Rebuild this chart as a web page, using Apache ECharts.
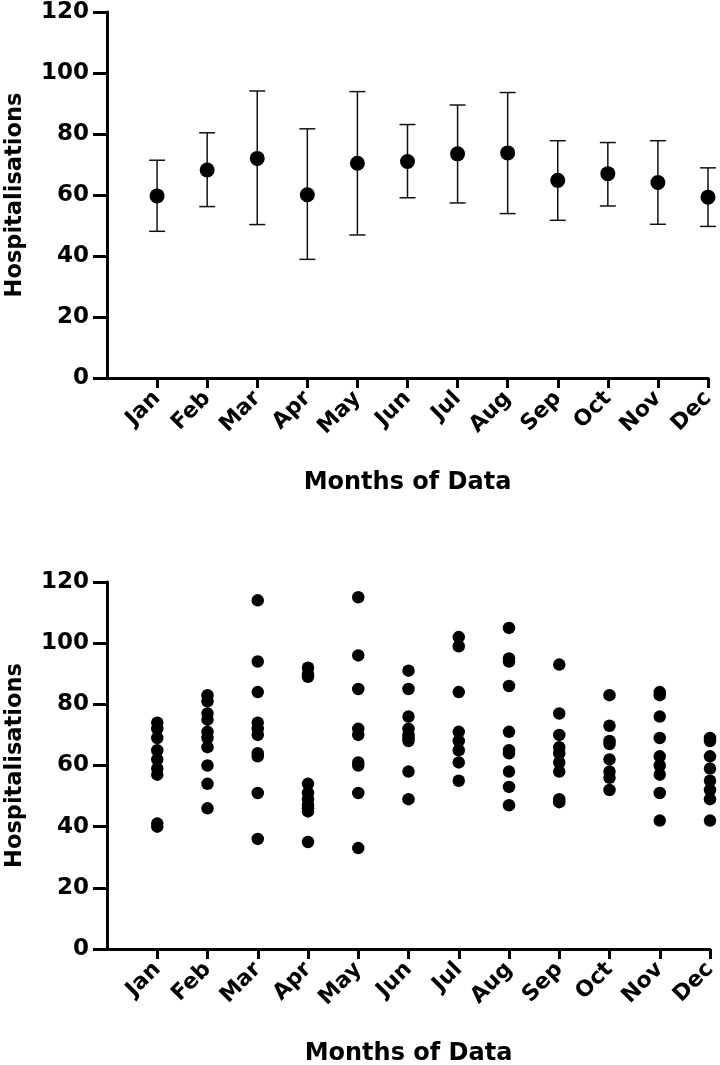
<!DOCTYPE html>
<html>
<head>
<meta charset="utf-8">
<script src="https://cdn.jsdelivr.net/npm/echarts@6/dist/echarts.min.js"></script>
<style>
html,body{margin:0;padding:0;background:#fff;}
#c{width:720px;height:1065px;}
</style>
</head>
<body>
<div id="c"></div>
<script>
// ---- data ----
var months = ['Jan','Feb','Mar','Apr','May','Jun','Jul','Aug','Sep','Oct','Nov','Dec'];
var yTicks = [0, 20, 40, 60, 80, 100, 120];
// top panel: mean with error bars
var meanValues  = [59.7, 68.2, 72.0, 60.1, 70.4, 71.0, 73.5, 73.8, 64.8, 67.0, 64.1, 59.3];
var lowerValues = [48.1, 56.2, 50.3, 38.9, 46.9, 59.1, 57.4, 53.9, 51.7, 56.4, 50.4, 49.7];
var upperValues = [71.4, 80.4, 94.1, 81.7, 93.9, 83.1, 89.5, 93.6, 77.8, 77.2, 77.8, 68.9];
// bottom panel: individual observations per month
var janObs = [74, 72, 69, 65, 62, 59, 57, 41, 40];
var febObs = [83, 81, 77, 75, 71, 69, 66, 60, 54, 46];
var marObs = [114, 94, 84, 74, 72, 70, 64, 63, 51, 36];
var aprObs = [92, 90, 89, 54, 51, 49, 47, 46, 45, 35];
var mayObs = [115, 96, 85, 72, 70, 61, 60, 51, 33];
var junObs = [91, 85, 76, 72, 70, 69, 68, 58, 49];
var julObs = [102, 99, 84, 71, 68, 65, 61, 55];
var augObs = [105, 95, 94, 86, 71, 65, 64, 58, 53, 47];
var sepObs = [93, 77, 70, 66, 64, 61, 58, 49, 48];
var octObs = [83, 73, 68, 67, 62, 58, 56, 52];
var novObs = [84, 83, 76, 69, 63, 60, 57, 51, 42];
var decObs = [69, 68, 63, 59, 55, 52, 49, 42];
var monthObs = [janObs, febObs, marObs, aprObs, mayObs, junObs, julObs, augObs, sepObs, octObs, novObs, decObs];

// ---- build ----
var FONT = 'DejaVu Sans';
var cats = [''].concat(months);

function xAxisCfg(gi) {
  return {
    gridIndex: gi,
    type: 'category',
    data: cats,
    boundaryGap: false,
    name: 'Months of Data',
    nameLocation: 'middle',
    nameGap: 93,
    nameTextStyle: {fontFamily: FONT, fontWeight: 'bold', fontSize: 24, color: '#000'},
    axisLine: {lineStyle: {color: '#000', width: 3}},
    axisTick: {length: 10, lineStyle: {color: '#000', width: 3},
               interval: function (i) { return i > 0; }},
    axisLabel: {rotate: 45, margin: 17, interval: 0,
                fontFamily: FONT, fontWeight: 'bold', fontSize: 22, color: '#000'},
    splitLine: {show: false}
  };
}
function yAxisCfg(gi) {
  return {
    gridIndex: gi,
    type: 'value',
    min: yTicks[0],
    max: yTicks[yTicks.length - 1],
    interval: yTicks[1] - yTicks[0],
    name: 'Hospitalisations',
    nameLocation: 'middle',
    nameGap: 80,
    nameTextStyle: {fontFamily: FONT, fontWeight: 'bold', fontSize: 22.5, color: '#000'},
    axisLine: {show: true, lineStyle: {color: '#000', width: 3}},
    axisTick: {show: true, length: 14, lineStyle: {color: '#000', width: 3}},
    axisLabel: {margin: 18, fontFamily: FONT, fontWeight: 'bold', fontSize: 23, color: '#000'},
    splitLine: {show: false}
  };
}

var errData = months.map(function (m, i) { return [i + 1, lowerValues[i], upperValues[i]]; });
var meanData = months.map(function (m, i) { return [i + 1, meanValues[i]]; });
var obsData = [];
monthObs.forEach(function (arr, i) {
  arr.forEach(function (v) { obsData.push([i + 1, v]); });
});

var option = {
  animation: false,
  backgroundColor: '#fff',
  grid: [
    {left: 107, right: 12, top: 12, height: 366, containLabel: false, outerBoundsMode: 'none'},
    {left: 107, right: 10, top: 582, height: 367, containLabel: false, outerBoundsMode: 'none'}
  ],
  xAxis: [xAxisCfg(0), xAxisCfg(1)],
  yAxis: [yAxisCfg(0), yAxisCfg(1)],
  series: [
    {
      type: 'custom',
      xAxisIndex: 0, yAxisIndex: 0,
      data: errData,
      encode: {x: 0, y: [1, 2]},
      z: 2,
      renderItem: function (params, api) {
        var x = api.value(0);
        var lo = api.coord([x, api.value(1)]);
        var hi = api.coord([x, api.value(2)]);
        var hw = 8;
        var st = {stroke: '#111', lineWidth: 1.5};
        return {
          type: 'group',
          children: [
            {type: 'line', shape: {x1: lo[0], y1: lo[1], x2: hi[0], y2: hi[1]}, style: st},
            {type: 'line', shape: {x1: hi[0] - hw, y1: hi[1], x2: hi[0] + hw, y2: hi[1]}, style: st},
            {type: 'line', shape: {x1: lo[0] - hw, y1: lo[1], x2: lo[0] + hw, y2: lo[1]}, style: st}
          ]
        };
      }
    },
    {
      type: 'scatter',
      xAxisIndex: 0, yAxisIndex: 0,
      data: meanData,
      symbol: 'circle',
      symbolSize: 15,
      itemStyle: {color: '#000', opacity: 1},
      z: 3
    },
    {
      type: 'scatter',
      xAxisIndex: 1, yAxisIndex: 1,
      data: obsData,
      symbol: 'circle',
      symbolSize: 12.5,
      itemStyle: {color: '#000', opacity: 1}
    }
  ]
};

var chart = echarts.init(document.getElementById('c'), null, {renderer: 'canvas'});
chart.setOption(option);
</script>
</body>
</html>
